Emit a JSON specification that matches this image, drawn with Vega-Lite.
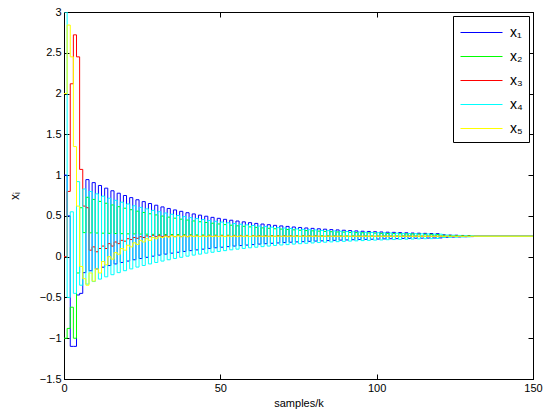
{
"$schema":"https://vega.github.io/schema/vega-lite/v6.json",
"width":469,"height":367,
"autosize":{"type":"none"},
"padding":{"left":64,"top":12,"right":12,"bottom":41},
"background":"white",
"config":{"font":"Liberation Sans","view":{"stroke":"black","strokeWidth":1},
 "axis":{"grid":false,"domainColor":"black","tickColor":"black","tickSize":-5,"labelColor":"black","labelFontSize":11,"titleFontSize":11,"titleFontWeight":"normal","titleColor":"black","labelFlush":false,"labelPadding":8,"format":"~f"}},
"data":{"values":[
{"k":0,"x1":1.0,"x2":-1.0,"x3":0,"x4":3.0,"x5":2.0},
{"k":1,"x1":0.5,"x2":-0.88,"x3":0.8,"x4":-0.5,"x5":2.84},
{"k":2,"x1":-1.1,"x2":-0.62,"x3":2.12,"x4":0.55,"x5":2.45},
{"k":3,"x1":-1.1,"x2":-1.0,"x3":2.72,"x4":-0.45,"x5":1.35},
{"k":4,"x1":-0.47,"x2":-0.2,"x3":2.45,"x4":0.92,"x5":0.62},
{"k":5,"x1":-0.45,"x2":0.6,"x3":1.07,"x4":-0.35,"x5":-0.12},
{"k":6,"x1":-0.196,"x2":0.295,"x3":0.62,"x4":0.83,"x5":-0.27},
{"k":7,"x1":0.945,"x2":0.728,"x3":0.6,"x4":-0.336,"x5":-0.35},
{"k":8,"x1":-0.173,"x2":0.292,"x3":0.08,"x4":0.799,"x5":-0.2},
{"k":9,"x1":0.908,"x2":0.702,"x3":0.12,"x4":-0.305,"x5":-0.3},
{"k":10,"x1":-0.15,"x2":0.29,"x3":0.06,"x4":0.77,"x5":-0.15},
{"k":11,"x1":0.873,"x2":0.678,"x3":0.1,"x4":-0.275,"x5":-0.2},
{"k":12,"x1":-0.129,"x2":0.288,"x3":0.13,"x4":0.742,"x5":-0.06},
{"k":13,"x1":0.84,"x2":0.655,"x3":0.1,"x4":-0.247,"x5":-0.1},
{"k":14,"x1":-0.109,"x2":0.286,"x3":0.16,"x4":0.716,"x5":0.0},
{"k":15,"x1":0.808,"x2":0.634,"x3":0.13,"x4":-0.221,"x5":-0.03},
{"k":16,"x1":-0.089,"x2":0.284,"x3":0.18,"x4":0.691,"x5":0.05},
{"k":17,"x1":0.778,"x2":0.613,"x3":0.16,"x4":-0.196,"x5":0.03},
{"k":18,"x1":-0.071,"x2":0.282,"x3":0.2,"x4":0.668,"x5":0.1},
{"k":19,"x1":0.75,"x2":0.594,"x3":0.19,"x4":-0.172,"x5":0.08},
{"k":20,"x1":-0.054,"x2":0.28,"x3":0.22,"x4":0.646,"x5":0.14},
{"k":21,"x1":0.724,"x2":0.576,"x3":0.21,"x4":-0.15,"x5":0.12},
{"k":22,"x1":-0.038,"x2":0.279,"x3":0.235,"x4":0.624,"x5":0.17},
{"k":23,"x1":0.698,"x2":0.558,"x3":0.225,"x4":-0.128,"x5":0.15},
{"k":24,"x1":-0.023,"x2":0.277,"x3":0.245,"x4":0.604,"x5":0.2},
{"k":25,"x1":0.675,"x2":0.542,"x3":0.235,"x4":-0.108,"x5":0.18},
{"k":26,"x1":-0.008,"x2":0.276,"x3":0.255,"x4":0.586,"x5":0.22},
{"k":27,"x1":0.652,"x2":0.526,"x3":0.245,"x4":-0.089,"x5":0.2},
{"k":28,"x1":0.006,"x2":0.274,"x3":0.262,"x4":0.568,"x5":0.235},
{"k":29,"x1":0.631,"x2":0.512,"x3":0.245,"x4":-0.071,"x5":0.22},
{"k":30,"x1":0.019,"x2":0.273,"x3":0.262,"x4":0.551,"x5":0.245},
{"k":31,"x1":0.61,"x2":0.498,"x3":0.246,"x4":-0.054,"x5":0.235},
{"k":32,"x1":0.031,"x2":0.272,"x3":0.262,"x4":0.535,"x5":0.25},
{"k":33,"x1":0.591,"x2":0.485,"x3":0.246,"x4":-0.038,"x5":0.24},
{"k":34,"x1":0.043,"x2":0.271,"x3":0.262,"x4":0.52,"x5":0.256},
{"k":35,"x1":0.573,"x2":0.472,"x3":0.246,"x4":-0.022,"x5":0.245},
{"k":36,"x1":0.054,"x2":0.27,"x3":0.262,"x4":0.505,"x5":0.256},
{"k":37,"x1":0.556,"x2":0.46,"x3":0.246,"x4":-0.008,"x5":0.245},
{"k":38,"x1":0.064,"x2":0.269,"x3":0.262,"x4":0.492,"x5":0.256},
{"k":39,"x1":0.539,"x2":0.449,"x3":0.246,"x4":0.006,"x5":0.245},
{"k":40,"x1":0.074,"x2":0.268,"x3":0.262,"x4":0.479,"x5":0.256},
{"k":41,"x1":0.524,"x2":0.438,"x3":0.248,"x4":0.019,"x5":0.247},
{"k":42,"x1":0.083,"x2":0.267,"x3":0.258,"x4":0.467,"x5":0.254},
{"k":43,"x1":0.509,"x2":0.428,"x3":0.248,"x4":0.031,"x5":0.247},
{"k":44,"x1":0.092,"x2":0.266,"x3":0.258,"x4":0.455,"x5":0.254},
{"k":45,"x1":0.496,"x2":0.419,"x3":0.248,"x4":0.043,"x5":0.247},
{"k":46,"x1":0.101,"x2":0.265,"x3":0.258,"x4":0.444,"x5":0.254},
{"k":47,"x1":0.482,"x2":0.41,"x3":0.248,"x4":0.054,"x5":0.247},
{"k":48,"x1":0.109,"x2":0.264,"x3":0.258,"x4":0.434,"x5":0.254},
{"k":49,"x1":0.47,"x2":0.401,"x3":0.248,"x4":0.064,"x5":0.247},
{"k":50,"x1":0.116,"x2":0.263,"x3":0.258,"x4":0.424,"x5":0.254},
{"k":51,"x1":0.458,"x2":0.393,"x3":0.248,"x4":0.074,"x5":0.247},
{"k":52,"x1":0.123,"x2":0.263,"x3":0.258,"x4":0.415,"x5":0.254},
{"k":53,"x1":0.447,"x2":0.386,"x3":0.248,"x4":0.084,"x5":0.247},
{"k":54,"x1":0.13,"x2":0.262,"x3":0.258,"x4":0.406,"x5":0.254},
{"k":55,"x1":0.437,"x2":0.378,"x3":0.248,"x4":0.092,"x5":0.247},
{"k":56,"x1":0.136,"x2":0.261,"x3":0.258,"x4":0.398,"x5":0.254},
{"k":57,"x1":0.427,"x2":0.372,"x3":0.248,"x4":0.101,"x5":0.247},
{"k":58,"x1":0.142,"x2":0.261,"x3":0.258,"x4":0.39,"x5":0.254},
{"k":59,"x1":0.417,"x2":0.365,"x3":0.248,"x4":0.109,"x5":0.247},
{"k":60,"x1":0.148,"x2":0.26,"x3":0.258,"x4":0.382,"x5":0.254},
{"k":61,"x1":0.408,"x2":0.359,"x3":0.249,"x4":0.116,"x5":0.249},
{"k":62,"x1":0.154,"x2":0.26,"x3":0.255,"x4":0.375,"x5":0.252},
{"k":63,"x1":0.4,"x2":0.353,"x3":0.249,"x4":0.123,"x5":0.249},
{"k":64,"x1":0.159,"x2":0.259,"x3":0.255,"x4":0.369,"x5":0.252},
{"k":65,"x1":0.392,"x2":0.348,"x3":0.249,"x4":0.13,"x5":0.249},
{"k":66,"x1":0.164,"x2":0.259,"x3":0.255,"x4":0.362,"x5":0.252},
{"k":67,"x1":0.384,"x2":0.342,"x3":0.249,"x4":0.137,"x5":0.249},
{"k":68,"x1":0.168,"x2":0.258,"x3":0.255,"x4":0.356,"x5":0.252},
{"k":69,"x1":0.377,"x2":0.338,"x3":0.249,"x4":0.143,"x5":0.249},
{"k":70,"x1":0.173,"x2":0.258,"x3":0.255,"x4":0.351,"x5":0.252},
{"k":71,"x1":0.371,"x2":0.333,"x3":0.249,"x4":0.148,"x5":0.249},
{"k":72,"x1":0.177,"x2":0.257,"x3":0.255,"x4":0.345,"x5":0.252},
{"k":73,"x1":0.364,"x2":0.329,"x3":0.249,"x4":0.154,"x5":0.249},
{"k":74,"x1":0.181,"x2":0.257,"x3":0.255,"x4":0.34,"x5":0.252},
{"k":75,"x1":0.358,"x2":0.324,"x3":0.249,"x4":0.159,"x5":0.249},
{"k":76,"x1":0.184,"x2":0.257,"x3":0.255,"x4":0.335,"x5":0.252},
{"k":77,"x1":0.352,"x2":0.32,"x3":0.249,"x4":0.164,"x5":0.249},
{"k":78,"x1":0.188,"x2":0.256,"x3":0.255,"x4":0.331,"x5":0.252},
{"k":79,"x1":0.347,"x2":0.317,"x3":0.249,"x4":0.168,"x5":0.249},
{"k":80,"x1":0.191,"x2":0.256,"x3":0.255,"x4":0.327,"x5":0.252},
{"k":81,"x1":0.342,"x2":0.313,"x3":0.25,"x4":0.173,"x5":0.25},
{"k":82,"x1":0.194,"x2":0.256,"x3":0.25,"x4":0.322,"x5":0.25},
{"k":83,"x1":0.337,"x2":0.31,"x3":0.25,"x4":0.177,"x5":0.25},
{"k":84,"x1":0.197,"x2":0.255,"x3":0.25,"x4":0.319,"x5":0.25},
{"k":85,"x1":0.332,"x2":0.306,"x3":0.25,"x4":0.181,"x5":0.25},
{"k":86,"x1":0.2,"x2":0.255,"x3":0.25,"x4":0.315,"x5":0.25},
{"k":87,"x1":0.328,"x2":0.303,"x3":0.25,"x4":0.184,"x5":0.25},
{"k":88,"x1":0.203,"x2":0.255,"x3":0.25,"x4":0.311,"x5":0.25},
{"k":89,"x1":0.324,"x2":0.301,"x3":0.25,"x4":0.188,"x5":0.25},
{"k":90,"x1":0.205,"x2":0.254,"x3":0.25,"x4":0.308,"x5":0.25},
{"k":91,"x1":0.32,"x2":0.298,"x3":0.25,"x4":0.191,"x5":0.25},
{"k":92,"x1":0.208,"x2":0.254,"x3":0.25,"x4":0.305,"x5":0.25},
{"k":93,"x1":0.316,"x2":0.295,"x3":0.25,"x4":0.194,"x5":0.25},
{"k":94,"x1":0.21,"x2":0.254,"x3":0.25,"x4":0.302,"x5":0.25},
{"k":95,"x1":0.312,"x2":0.293,"x3":0.25,"x4":0.197,"x5":0.25},
{"k":96,"x1":0.212,"x2":0.254,"x3":0.25,"x4":0.299,"x5":0.25},
{"k":97,"x1":0.309,"x2":0.291,"x3":0.25,"x4":0.2,"x5":0.25},
{"k":98,"x1":0.214,"x2":0.254,"x3":0.25,"x4":0.297,"x5":0.25},
{"k":99,"x1":0.306,"x2":0.289,"x3":0.25,"x4":0.203,"x5":0.25},
{"k":100,"x1":0.216,"x2":0.253,"x3":0.25,"x4":0.294,"x5":0.25},
{"k":101,"x1":0.303,"x2":0.286,"x3":0.25,"x4":0.205,"x5":0.25},
{"k":102,"x1":0.218,"x2":0.253,"x3":0.25,"x4":0.292,"x5":0.25},
{"k":103,"x1":0.3,"x2":0.285,"x3":0.25,"x4":0.208,"x5":0.25},
{"k":104,"x1":0.22,"x2":0.253,"x3":0.25,"x4":0.29,"x5":0.25},
{"k":105,"x1":0.298,"x2":0.283,"x3":0.25,"x4":0.21,"x5":0.25},
{"k":106,"x1":0.221,"x2":0.253,"x3":0.25,"x4":0.288,"x5":0.25},
{"k":107,"x1":0.295,"x2":0.281,"x3":0.25,"x4":0.212,"x5":0.25},
{"k":108,"x1":0.223,"x2":0.253,"x3":0.25,"x4":0.286,"x5":0.25},
{"k":109,"x1":0.293,"x2":0.279,"x3":0.25,"x4":0.214,"x5":0.25},
{"k":110,"x1":0.224,"x2":0.253,"x3":0.25,"x4":0.284,"x5":0.25},
{"k":111,"x1":0.29,"x2":0.278,"x3":0.25,"x4":0.216,"x5":0.25},
{"k":112,"x1":0.226,"x2":0.252,"x3":0.25,"x4":0.282,"x5":0.25},
{"k":113,"x1":0.288,"x2":0.276,"x3":0.25,"x4":0.218,"x5":0.25},
{"k":114,"x1":0.227,"x2":0.252,"x3":0.25,"x4":0.28,"x5":0.25},
{"k":115,"x1":0.286,"x2":0.275,"x3":0.25,"x4":0.22,"x5":0.25},
{"k":116,"x1":0.228,"x2":0.252,"x3":0.25,"x4":0.279,"x5":0.25},
{"k":117,"x1":0.284,"x2":0.274,"x3":0.25,"x4":0.221,"x5":0.25},
{"k":118,"x1":0.229,"x2":0.252,"x3":0.25,"x4":0.277,"x5":0.25},
{"k":119,"x1":0.282,"x2":0.272,"x3":0.25,"x4":0.223,"x5":0.25},
{"k":120,"x1":0.23,"x2":0.252,"x3":0.25,"x4":0.276,"x5":0.25},
{"k":121,"x1":0.268,"x2":0.262,"x3":0.25,"x4":0.235,"x5":0.25},
{"k":122,"x1":0.238,"x2":0.251,"x3":0.25,"x4":0.265,"x5":0.25},
{"k":123,"x1":0.265,"x2":0.26,"x3":0.25,"x4":0.237,"x5":0.25},
{"k":124,"x1":0.24,"x2":0.251,"x3":0.25,"x4":0.263,"x5":0.25},
{"k":125,"x1":0.263,"x2":0.258,"x3":0.25,"x4":0.239,"x5":0.25},
{"k":126,"x1":0.242,"x2":0.251,"x3":0.25,"x4":0.26,"x5":0.25},
{"k":127,"x1":0.26,"x2":0.256,"x3":0.25,"x4":0.241,"x5":0.25},
{"k":128,"x1":0.244,"x2":0.25,"x3":0.25,"x4":0.258,"x5":0.25},
{"k":129,"x1":0.258,"x2":0.255,"x3":0.25,"x4":0.243,"x5":0.25},
{"k":130,"x1":0.246,"x2":0.25,"x3":0.25,"x4":0.256,"x5":0.25},
{"k":131,"x1":0.25,"x2":0.25,"x3":0.25,"x4":0.25,"x5":0.25},
{"k":150,"x1":0.25,"x2":0.25,"x3":0.25,"x4":0.25,"x5":0.25}
]},
"transform":[{"fold":["x1","x2","x3","x4","x5"],"as":["series","value"]}],
"layer":[
 {"mark":{"type":"line","interpolate":"step-after","strokeWidth":1,"clip":true},
  "encoding":{
   "x":{"field":"k","type":"quantitative","scale":{"domain":[0,150],"nice":false},"axis":{"values":[0,50,100,150],"title":"samples/k","titlePadding":4}},
   "y":{"field":"value","type":"quantitative","scale":{"domain":[-1.5,3],"nice":false,"zero":false},"axis":{"values":[-1.5,-1,-0.5,0,0.5,1,1.5,2,2.5,3],"title":"xᵢ","titlePadding":18,"titleFontSize":12}},
   "color":{"field":"series","type":"nominal","scale":{"domain":["x1","x2","x3","x4","x5"],"range":["#0000ff","#00ff00","#ff0000","#00ffff","#ffff00"]},
     "legend":{"title":null,"orient":"top-right","offset":4,"strokeColor":"black","fillColor":"white","padding":6,"symbolType":"M-2.1,0H2.1","symbolSize":400,"symbolStrokeWidth":1,"symbolOffset":12,"labelFontSize":14,"rowPadding":6,"labelOffset":18,"labelExpr":"datum.label == 'x1' ? 'x₁' : datum.label == 'x2' ? 'x₂' : datum.label == 'x3' ? 'x₃' : datum.label == 'x4' ? 'x₄' : 'x₅'"}}
  }},
 {"mark":{"type":"line","opacity":0},
  "encoding":{
   "x":{"field":"k","type":"quantitative","axis":{"orient":"top","labels":false,"title":null,"values":[0,50,100,150]}},
   "y":{"field":"value","type":"quantitative","axis":{"orient":"right","labels":false,"title":null,"values":[-1.5,-1,-0.5,0,0.5,1,1.5,2,2.5,3]}}}}
],
"resolve":{"axis":{"x":"independent","y":"independent"}}
}
